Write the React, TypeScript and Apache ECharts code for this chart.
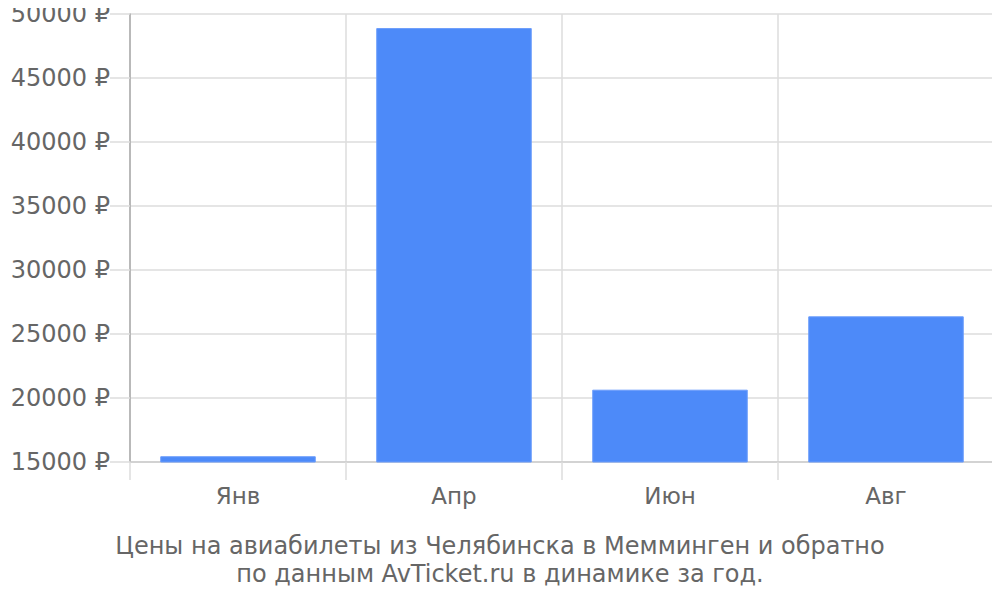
import { useRef, useEffect } from 'react'
import * as echarts from 'echarts'

const months = ['Янв', 'Апр', 'Июн', 'Авг']
const prices = [15450, 48900, 20650, 26380]
const yMin = 15000
const yMax = 50000
const yStep = 5000
const titleLines = [
  'Цены на авиабилеты из Челябинска в Мемминген и обратно',
  'по данным AvTicket.ru в динамике за год.',
]

const FONT = '"DejaVu Sans", sans-serif'

export default function App() {
  const chartRef = useRef<HTMLDivElement>(null)

  useEffect(() => {
    if (!chartRef.current) return
    const chart = echarts.init(chartRef.current, undefined, { renderer: 'svg' })

    chart.setOption({
      animation: false,
      textStyle: { fontFamily: FONT },
      // one title per line so each line is centred on its own
      title: titleLines.map((t, i) => ({
        text: t,
        left: 'center',
        top: 534 + i * 28,
        padding: 0,
        textStyle: { fontSize: 24, fontWeight: 'normal', color: '#666', fontFamily: FONT },
      })),
      grid: { left: 130, right: 6, top: 14, bottom: 138 },
      xAxis: {
        type: 'category',
        data: months,
        axisLine: { show: true, lineStyle: { color: '#ccc', width: 1.5 } },
        axisTick: { show: true, length: 18, lineStyle: { color: '#ddd', width: 1.5 } },
        splitLine: { show: true, lineStyle: { color: '#ddd', width: 1.5 } },
        axisLabel: { color: '#666', fontSize: 23, margin: 22, fontFamily: FONT },
      },
      yAxis: {
        type: 'value',
        min: yMin,
        max: yMax,
        interval: yStep,
        axisLine: { show: true, lineStyle: { color: '#aaa', width: 1.5 } },
        axisTick: { show: true, length: 20, lineStyle: { color: '#ddd', width: 1.5 } },
        splitLine: { show: true, lineStyle: { color: '#ddd', width: 1.5 } },
        axisLabel: {
          color: '#666',
          fontSize: 24,
          margin: 20,
          fontFamily: FONT,
          formatter: (v: number) => `${v} ₽`,
        },
      },
      series: [
        {
          type: 'bar',
          data: prices,
          barWidth: '72%',
          itemStyle: { color: '#4d8af9', borderColor: '#6b9cfb', borderWidth: 1 },
        },
      ],
    })

    return () => chart.dispose()
  }, [])

  return <div ref={chartRef} style={{ width: 1000, height: 600, margin: -8 }} />
}
